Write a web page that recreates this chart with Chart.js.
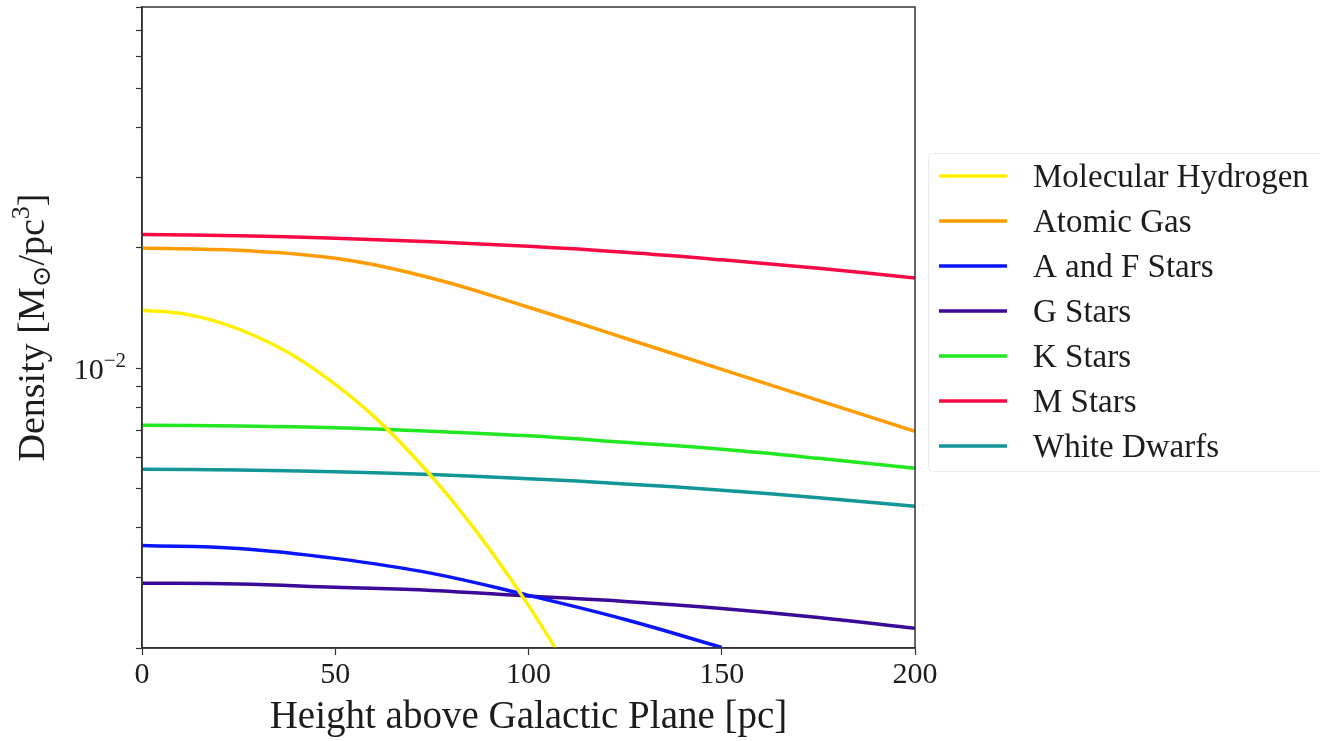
<!DOCTYPE html>
<html>
<head>
<meta charset="utf-8">
<title>Density above the Galactic plane</title>
<script src="https://cdn.jsdelivr.net/npm/chart.js@4/dist/chart.umd.min.js"></script>
<style>
    html, body { margin: 0; padding: 0; background: #fff; }
    #wrap { width: 1320px; height: 741px; }
</style>
</head>
<body>
<div id="wrap"><canvas id="density-chart" width="1320" height="741"></canvas></div>
<script>
// Heights above the plane [pc] at which the curves were read
const heightsPc = [0, 25, 50, 75, 100, 125, 150, 175, 200];
const heightsH2 = [0, 10, 20, 30, 40, 50, 60, 70, 80, 90, 100, 110];
const heightsAF = [0, 25, 50, 75, 100, 125, 150];

// Densities [Msun / pc^3]
const molecularHydrogen = [0.01396, 0.01373, 0.01303, 0.01196, 0.01065, 0.00912, 0.007586, 0.006063, 0.004705, 0.003528, 0.002556, 0.001789];
const atomicGas = [0.01998, 0.01972, 0.01884, 0.01679, 0.01421, 0.01189, 0.009943, 0.008318, 0.006961];
const afStars = [0.003610, 0.003548, 0.003350, 0.003073, 0.002707, 0.002357, 0.002007];
const gStars = [0.002905, 0.002891, 0.002838, 0.002786, 0.002698, 0.002615, 0.002512, 0.002385, 0.002239];
const kStars = [0.007205, 0.007176, 0.007102, 0.006961, 0.006783, 0.006531, 0.006273, 0.005957, 0.005623];
const mStars = [0.02159, 0.02144, 0.02114, 0.02071, 0.02018, 0.01950, 0.01867, 0.01778, 0.01681];
const whiteDwarfs = [0.005591, 0.005572, 0.005517, 0.005426, 0.005299, 0.005143, 0.004960, 0.004750, 0.004519];

const seriesNames = ['Molecular Hydrogen', 'Atomic Gas', 'A and F Stars', 'G Stars', 'K Stars', 'M Stars', 'White Dwarfs'];
const seriesColors = ['#fff000', '#ff9d00', '#0a14ff', '#3a0a99', '#22e822', '#fa0a45', '#129696'];

// y axis ticks (log scale), only 10^-2 gets a label
const yTickValues = [0.002, 0.003, 0.004, 0.005, 0.006, 0.007, 0.008, 0.009, 0.01, 0.02, 0.03, 0.04, 0.05, 0.06, 0.07, 0.08];
const yLabelValue = 0.01;
const xTickValues = [0, 50, 100, 150, 200];

const FONT = "'Liberation Serif', 'DejaVu Serif', serif";
const INK = '#1c1c1c';

function pairs(xs, ys) {
    return ys.map((y, i) => ({ x: xs[i], y: y }));
}

const seriesData = [
    pairs(heightsH2, molecularHydrogen),
    pairs(heightsPc, atomicGas),
    pairs(heightsAF, afStars),
    pairs(heightsPc, gStars),
    pairs(heightsPc, kStars),
    pairs(heightsPc, mStars),
    pairs(heightsPc, whiteDwarfs)
];

// frame round the plot area
const framePlugin = {
    id: 'frame',
    afterDraw(chart) {
        const a = chart.chartArea;
        const ctx = chart.ctx;
        ctx.save();
        ctx.strokeStyle = '#333';
        ctx.lineWidth = 1.5;
        ctx.strokeRect(a.left, a.top, a.right - a.left, a.bottom - a.top);
        ctx.restore();
    }
};

// draws pieces of text one after the other, each with its own size and shift
function drawPieces(ctx, parts, x0, align) {
    let total = 0;
    parts.forEach(p => {
        ctx.font = p.size + 'px ' + FONT;
        p.w = ctx.measureText(p.t).width;
        total += p.w;
    });
    let x = align === 'right' ? x0 - total : (align === 'center' ? x0 - total / 2 : x0);
    parts.forEach(p => {
        ctx.font = p.size + 'px ' + FONT;
        ctx.fillText(p.t, x, p.dy);
        x += p.w;
    });
}

// y axis title (sun symbol subscript, cube superscript) and the 10^-2 label
const yAxisTextPlugin = {
    id: 'yAxisText',
    afterDraw(chart) {
        const ctx = chart.ctx;
        const a = chart.chartArea;
        ctx.save();
        ctx.fillStyle = INK;
        ctx.textBaseline = 'alphabetic';
        ctx.textAlign = 'left';

        const yLab = chart.scales.y.getPixelForValue(yLabelValue);
        ctx.save();
        ctx.translate(0, yLab + 11);
        drawPieces(ctx, [
            { t: '10', size: 30, dy: 0 },
            { t: '\u2212', size: 21, dy: -12 },
            { t: '2', size: 21, dy: -12 }
        ], 126, 'right');
        ctx.restore();

        ctx.translate(44, (a.top + a.bottom) / 2);
        ctx.rotate(-Math.PI / 2);
        drawPieces(ctx, [
            { t: 'Density [M', size: 38, dy: 0 },
            { t: '\u2299', size: 26, dy: 6 },
            { t: '/pc', size: 38, dy: 0 },
            { t: '3', size: 26, dy: -15 },
            { t: ']', size: 38, dy: 0 }
        ], 0, 'center');
        ctx.restore();
    }
};

// legend drawn to the right of the plot
const legendPlugin = {
    id: 'sideLegend',
    afterDraw(chart) {
        const ctx = chart.ctx;
        ctx.save();
        ctx.fillStyle = 'rgba(255,255,255,0.9)';
        ctx.strokeStyle = '#ececec';
        ctx.lineWidth = 1;
        ctx.beginPath();
        ctx.roundRect(928.5, 153.5, 420, 318, 4);
        ctx.fill();
        ctx.stroke();
        chart.data.datasets.forEach((ds, i) => {
            const y = 176 + 45 * i;
            ctx.strokeStyle = ds.borderColor;
            ctx.lineWidth = 3.5;
            ctx.beginPath();
            ctx.moveTo(939, y);
            ctx.lineTo(1007, y);
            ctx.stroke();
            ctx.fillStyle = INK;
            ctx.font = '33px ' + FONT;
            ctx.textBaseline = 'alphabetic';
            ctx.fillText(ds.label, 1033, y + 11);
        });
        ctx.restore();
    }
};

const ctx = document.getElementById('density-chart').getContext('2d');
new Chart(ctx, {
    type: 'line',
    data: {
        datasets: seriesNames.map((name, i) => ({
            label: name,
            data: seriesData[i],
            borderColor: seriesColors[i],
            backgroundColor: seriesColors[i],
            borderWidth: 3.5,
            pointRadius: 0,
            tension: 0.4,
            fill: false,
            clip: 0
        }))
    },
    options: {
        responsive: false,
        devicePixelRatio: 1,
        animation: false,
        layout: { padding: { top: 7, right: 405, bottom: 0, left: 0 } },
        plugins: {
            legend: { display: false },
            tooltip: { enabled: false }
        },
        scales: {
            x: {
                type: 'linear',
                min: 0,
                max: 200,
                afterBuildTicks: scale => {
                    scale.ticks = xTickValues.map(v => ({ value: v }));
                },
                afterFit: scale => {
                    scale.height = 93;
                    scale.paddingLeft = 0;
                    scale.paddingRight = 0;
                },
                ticks: {
                    font: { family: FONT, size: 30 },
                    color: INK,
                    padding: 2,
                    maxRotation: 0
                },
                grid: {
                    drawOnChartArea: false,
                    drawTicks: true,
                    tickLength: 7,
                    tickColor: '#333',
                    tickWidth: 1.2
                },
                border: { display: true, color: '#333', width: 1.5 },
                title: {
                    display: true,
                    text: 'Height above Galactic Plane [pc]',
                    font: { family: FONT, size: 39 },
                    color: INK,
                    padding: { top: 0, bottom: 0 }
                }
            },
            y: {
                type: 'logarithmic',
                min: 0.002,
                max: 0.08,
                afterBuildTicks: scale => {
                    scale.ticks = yTickValues.map(v => ({ value: v }));
                },
                afterFit: scale => {
                    scale.width = 142;
                    scale.paddingTop = 0;
                    scale.paddingBottom = 0;
                },
                ticks: {
                    autoSkip: false,
                    font: { family: FONT, size: 30 },
                    color: INK,
                    padding: 10,
                    callback: () => ''
                },
                grid: {
                    drawOnChartArea: false,
                    drawTicks: true,
                    tickLength: 6,
                    tickColor: '#333',
                    tickWidth: 1.2
                },
                border: { display: true, color: '#333', width: 1.5 }
            }
        }
    },
    plugins: [framePlugin, yAxisTextPlugin, legendPlugin]
});
</script>
</body>
</html>
